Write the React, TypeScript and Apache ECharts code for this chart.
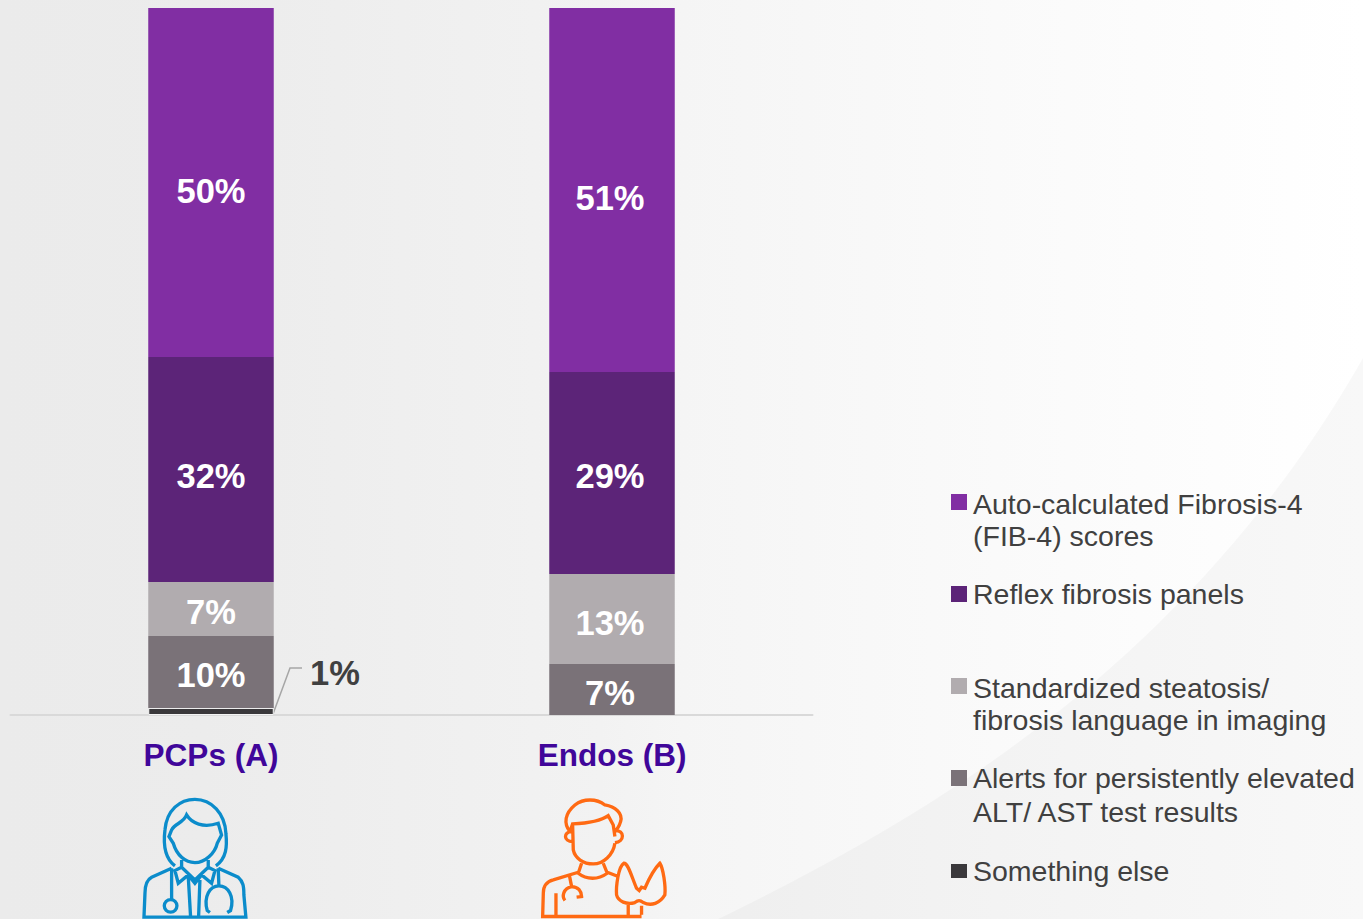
import React, { useEffect, useRef } from "react";
import * as echarts from "echarts";

const categories = ["PCPs (A)", "Endos (B)"];
const seriesNames = [
  "Something else",
  "Alerts for persistently elevated ALT/ AST test results",
  "Standardized steatosis/ fibrosis language in imaging",
  "Reflex fibrosis panels",
  "Auto-calculated Fibrosis-4 (FIB-4) scores",
];
// Segment heights (percent of the bar)
const somethingElse = [1, null];
const alerts = [10.17, 7.21];
const standardized = [7.64, 12.73];
const reflex = [31.83, 28.58];
const autoCalculated = [49.36, 51.48];
// Printed labels
const somethingElseLabels = ["1%", ""];
const alertsLabels = ["10%", "7%"];
const standardizedLabels = ["7%", "13%"];
const reflexLabels = ["32%", "29%"];
const autoCalculatedLabels = ["50%", "51%"];

const legendLines: Record<string, string> = {
  "Auto-calculated Fibrosis-4 (FIB-4) scores": "Auto-calculated Fibrosis-4\n(FIB-4) scores",
  "Reflex fibrosis panels": "Reflex fibrosis panels",
  "Standardized steatosis/ fibrosis language in imaging": "Standardized steatosis/\nfibrosis language in imaging",
  "Alerts for persistently elevated ALT/ AST test results": "Alerts for persistently elevated\nALT/ AST test results",
  "Something else": "Something else",
};
const legendOrder = [seriesNames[4], seriesNames[3], seriesNames[2], seriesNames[1], seriesNames[0]];
const legendTops = [494, 586, 678, 770, 862];
const legendSquareHeights = [16, 16, 16, 16, 14];
const legendLineHeights = [32, 33, 32, 34, 33];
const legendFirstLineCentres = [504, 594, 688, 778, 871];

const FONT = '"Liberation Sans", Arial, sans-serif';

const doctorPath = [
  "M165 258 C135 235 130 190 135 150 C140 90 180 58 225 58 C275 58 315 100 318 160 C322 200 320 235 288 258",
  "M147 170 L155 150 C165 130 190 130 200 105 C215 130 250 145 295 130 L305 165 L292 190 C285 220 255 248 225 248 C195 248 170 225 160 190 Z",
  "M185 240 L185 262 L165 272 L175 310 L205 285 L225 310 L245 285 L275 310 L285 272 L265 262 L265 240",
  "M185 262 L225 300 L265 262",
  "M155 265 L95 292 C80 300 75 320 75 340 L72 412 L378 412 L372 345 C372 320 370 305 355 292 L295 265",
  "M155 265 L155 358",
  "M171 378 A19 19 0 1 1 133 378 A19 19 0 1 1 171 378 Z",
  "M205 290 L212 412 M240 300 L236 412",
  "M295 265 L297 318",
  "M270 398 L262 392 C250 350 270 318 297 318 C325 318 345 350 332 392 L322 398",
].join(" ");

const endoPath = [
  "M150 155 C130 130 135 100 165 75 C190 55 230 55 255 75 C285 80 310 100 302 125 C298 140 290 150 285 150",
  "M150 155 L158 132 C200 130 240 125 265 107 L280 135 L285 170",
  "M155 155 C130 155 130 185 158 185",
  "M285 152 C315 150 315 185 285 188",
  "M158 132 L160 210 C165 235 190 252 220 252 C250 252 280 225 285 190",
  "M185 250 L175 280 C200 300 235 300 262 280 L250 250",
  "M175 277 L100 300 C80 305 70 320 70 340 L68 410 L365 410",
  "M262 277 L295 290",
  "M108 340 L108 405",
  "M148 285 L155 320 C130 325 125 350 135 362 M155 320 C175 320 185 335 185 350 L170 352",
  "M350 325 C335 290 325 250 312 250 C295 260 288 320 290 345 C295 365 320 375 345 368 C355 360 360 360 370 368 C395 380 420 370 435 345 C438 320 430 265 420 250 C410 260 390 290 375 325 L365 322 L358 332 Z",
  "M325 375 L325 405 M365 378 L365 405",
].join(" ");

const swooshPath = "M718 919 C900 830 1180 680 1363 358 L1363 919 Z";

echarts.graphic.registerShape("doctorIcon", echarts.graphic.extendPath(doctorPath as any, {}) as any);
echarts.graphic.registerShape("endoIcon", echarts.graphic.extendPath(endoPath as any, {}) as any);
echarts.graphic.registerShape("swoosh", echarts.graphic.extendPath(swooshPath as any, {}) as any);

// Two-line legend entries: a square inside a symbol box as tall as the text block,
// placed so that it sits beside the first line rather than the block's middle.
function twoLineIcon(offset: number, boxHeight: number) {
  return `path://M0 0L16 0L16 0Z M0 ${offset} L16 ${offset} L16 ${offset + 16} L0 ${offset + 16} Z M0 ${boxHeight} L16 ${boxHeight} L16 ${boxHeight} Z`;
}

function barSeries(name: string, data: (number | null)[], labels: string[], color: string, dx: number[], dy: number[]) {
  return {
    name,
    type: "bar",
    stack: "total",
    barWidth: 125.5,
    data,
    itemStyle: { color },
    label: {
      show: true,
      position: "inside",
      color: "#ffffff",
      fontFamily: FONT,
      fontWeight: "bold",
      fontSize: 34.5,
      formatter: (p: any) => labels[p.dataIndex],
    },
    labelLayout: (p: any) => ({ dx: dx[p.dataIndex], dy: dy[p.dataIndex] }),
  };
}

export default function App() {
  const ref = useRef<HTMLDivElement>(null);
  useEffect(() => {
    const chart = echarts.init(ref.current!, undefined, { renderer: "svg" });
    const labelDx = [0, -2];
    chart.setOption({
      animation: false,
      backgroundColor: {
        type: "linear", x: 0, y: 0, x2: 1, y2: 0,
        colorStops: [
          { offset: 0, color: "#ebebeb" },
          { offset: 0.15, color: "#ececec" },
          { offset: 0.44, color: "#f2f2f2" },
          { offset: 0.5, color: "#f5f5f5" },
          { offset: 0.73, color: "#fafafa" },
          { offset: 1, color: "#ffffff" },
        ],
      },
      graphic: [
        { type: "swoosh", z: -10, silent: true, style: { fill: "rgba(0,0,0,0.028)" } },
        { type: "polyline", silent: true, shape: { points: [[273, 714], [290, 668], [302, 668]] },
          style: { fill: "none", stroke: "#a6a6a6", lineWidth: 1.5 } },
        { type: "doctorIcon", x: 120, y: 780, scaleX: 1 / 3, scaleY: 1 / 3, silent: true,
          style: { fill: "none", stroke: "#0b8ccb", lineWidth: 10 } },
        { type: "endoIcon", x: 520, y: 780, scaleX: 1 / 3, scaleY: 1 / 3, silent: true,
          style: { fill: "none", stroke: "#ff6a13", lineWidth: 10 } },
      ],
      legend: legendOrder.map((name, i) => {
        const two = legendLines[name].includes("\n");
        const lh = legendLineHeights[i];
        const squareH = legendSquareHeights[i];
        // offset of the square inside the two-line box
        const offset = lh / 2 - (legendFirstLineCentres[i] - legendTops[i]);
        return {
          data: [name],
          left: 951,
          top: two ? legendTops[i] - offset : legendFirstLineCentres[i] - lh / 2,
          padding: 0,
          itemWidth: 16,
          itemHeight: two ? lh * 2 : squareH,
          icon: two ? twoLineIcon(offset, lh * 2) : `path://M0 0L16 0L16 ${squareH}L0 ${squareH}Z`,
          symbolKeepAspect: false,
          selectedMode: false,
          itemStyle: { borderWidth: 0 },
          formatter: (n: string) => legendLines[n],
          textStyle: {
            fontFamily: FONT,
            fontSize: 28.5,
            lineHeight: lh,
            color: "#404040",
            padding: [0, 0, 0, 1],
          },
        };
      }),
      grid: { left: 10.5, width: 802, top: 8, height: 707, containLabel: false },
      xAxis: {
        type: "category",
        data: categories,
        axisLine: { lineStyle: { color: "#d9d9d9", width: 2 } },
        axisTick: { show: false },
        axisLabel: {
          margin: 24,
          color: "#40069a",
          fontFamily: FONT,
          fontWeight: "bold",
          fontSize: 31.5,
        },
      },
      yAxis: { type: "value", min: 0, max: 100, show: false },
      series: [
        {
          ...barSeries(seriesNames[0], somethingElse, somethingElseLabels, "#3a383b", [0, 0], [0, 0]),
          itemStyle: { color: "#3a383b", borderColor: "#f4f4f4", borderWidth: 1 },
          label: {
            show: true,
            position: "right",
            color: "#404040",
            fontFamily: FONT,
            fontWeight: "bold",
            fontSize: 34.5,
            formatter: (p: any) => somethingElseLabels[p.dataIndex],
          },
          labelLayout: { x: 310, y: 655, verticalAlign: "top" },
        },
        barSeries(seriesNames[1], alerts, alertsLabels, "#7a7278", labelDx, [3, 3]),
        barSeries(seriesNames[2], standardized, standardizedLabels, "#b1acaf", labelDx, [3, 4]),
        barSeries(seriesNames[3], reflex, reflexLabels, "#5c2478", labelDx, [7, 3]),
        barSeries(seriesNames[4], autoCalculated, autoCalculatedLabels, "#812ea3", labelDx, [9, 8]),
      ],
    });
    return () => chart.dispose();
  }, []);
  return <div ref={ref} style={{ position: "fixed", left: 0, top: 0, width: 1363, height: 919 }} />;
}
